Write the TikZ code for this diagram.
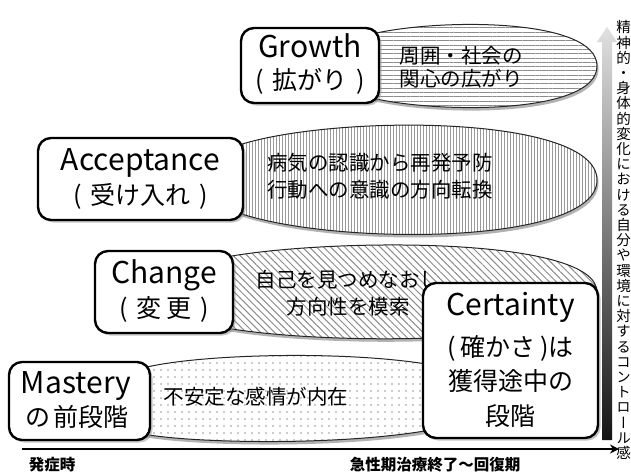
\documentclass[tikz,border=0pt]{standalone}
\usepackage{fontspec}
\setmainfont{Noto Sans CJK JP}
\newfontfamily\vjp[RawFeature=+vert]{Noto Sans CJK JP}
\usetikzlibrary{patterns.meta,shadows,arrows.meta}
\newcommand\fLat{\fontsize{30}{32}\selectfont}
\newcommand\fJbox{\fontsize{25}{27}\selectfont}
\newcommand\fJell{\fontsize{20.5}{22}\selectfont}
\def\pathGrowth{(372,34) .. controls (440,18) and (597,18) .. (597,66) .. controls (597,114) and (440,114) .. (372,98) -- cycle}
\def\pathAccept{(236,146) .. controls (330,114) and (597,114) .. (597,180) .. controls (597,246) and (330,246) .. (236,212) -- cycle}
\def\pathChange{(226,257) .. controls (330,238) and (597,236) .. (597,292) .. controls (597,346) and (330,346) .. (226,328) -- cycle}
\def\pathMastery{(143,368) .. controls (220,348) and (495,348) .. (497,397) .. controls (495,446) and (220,448) .. (143,434) -- cycle}
\begin{document}
\begin{tikzpicture}[x=1pt,y=-1pt,
  stagebox/.style={draw=black, line width=2.4pt, rounded corners=13pt, fill=white,
    drop shadow={shadow xshift=2.5pt, shadow yshift=-2.5pt, fill=black!45}},
  balshadow/.style={fill=black!30, shift={(1.5,3)}},
  baloutline/.style={draw=black!85, line width=1pt},
  txt/.style={inner sep=0pt},
  lat/.style={txt, font=\fLat, anchor=base},
  jbox/.style={txt, font=\fJbox},
  jell/.style={txt, font=\fJell},
  axislbl/.style={txt, font=\fontsize{15.5}{17}\selectfont\bfseries}]
\useasboundingbox (0,0) rectangle (631,475);
\fill[white] (0,0) rectangle (631,475);

% balloons
\fill[balshadow] \pathGrowth;
\fill[white] \pathGrowth;
\path[pattern={Lines[angle=0,distance=4.3pt,line width=0.7pt]}, pattern color=black!45] \pathGrowth;
\draw[baloutline] \pathGrowth;

\fill[balshadow] \pathAccept;
\fill[white] \pathAccept;
\path[pattern={Lines[angle=90,distance=3pt,line width=0.6pt]}, pattern color=black!40] \pathAccept;
\draw[baloutline] \pathAccept;

\fill[balshadow] \pathChange;
\fill[white] \pathChange;
\path[pattern={Lines[angle=-45,distance=5pt,line width=1pt]}, pattern color=black!45] \pathChange;
\draw[baloutline] \pathChange;

\fill[balshadow] \pathMastery;
\fill[white] \pathMastery;
\path[pattern={Dots[distance=7pt,radius=0.8pt]}, pattern color=black!40] \pathMastery;
\draw[baloutline] \pathMastery;

% balloon texts
\node[jell] (tg1) at (461,56) {周囲・社会の};
\node[jell] (tg2) at (461,79) {関心の広がり};
\node[jell] (ta1) at (380,163) {病気の認識から再発予防};
\node[jell] (ta2) at (380,190) {行動への意識の方向転換};
\node[jell] (tc1) at (348,280) {自己を見つめなおし};
\node[jell] (tc2) at (348,307) {方向性を模索};
\node[jell] (tm1) at (256,397) {不安定な感情が内在};

% stage boxes
\node[stagebox, minimum width=138pt, minimum height=75pt] (growth) at (310,65.5) {};
\node[stagebox, minimum width=205pt, minimum height=82pt] (accept) at (140.5,179) {};
\node[stagebox, minimum width=138pt, minimum height=82pt] (change) at (164,292) {};
\node[stagebox, minimum width=141pt, minimum height=78pt] (mastery) at (79.5,401) {};
\node[stagebox, minimum width=175pt, minimum height=155pt] (certainty) at (510.5,360.5) {};

\node[lat] (growthA) at (310,57) {Growth};
\node[jbox] (growthB) at (310,81) {(\kern.35em 拡がり\kern.35em)};
\node[lat] (acceptA) at (140.5,170) {Acceptance};
\node[jbox] (acceptB) at (140.5,196) {(\kern.35em 受け入れ\kern.35em)};
\node[lat] (changeA) at (164,283) {Change};
\node[jbox] (changeB) at (164,309) {(\kern.35em 変\kern.2em 更\kern.35em)};
\node[lat] (certA) at (510.5,315) {Certainty};
\node[jbox] (certB) at (510.5,348) {(\kern.2em 確かさ\kern.2em)は};
\node[jbox] (certC) at (510.5,381) {獲得途中の};
\node[jbox] (certD) at (510.5,416) {段階};
\node[lat] (mastA) at (76,393) {Mastery};
\node[jbox] (mastB) at (77,417) {の\kern.15em 前段階};

% horizontal axis
\coordinate (axstart) at (22,449);
\coordinate (axend) at (619,449);
\draw[line width=2.2pt, -{Stealth[length=9pt,width=9pt]}] (axstart) -- (axend);
\node[axislbl] (onset) at (52,465) {発症時};
\node[axislbl] (recov) at (435,465) {急性期治療終了〜回復期};

% vertical gradient arrow
\shade[top color=black!12, bottom color=black!92]
  (602,440) -- (602,42) -- (597,42) -- (607,27) -- (617,42) -- (612,42) -- (612,440) -- cycle;
\node[txt, font=\vjp\fontsize{14.5}{15.2}\selectfont, align=center] (vlabel) at (623.5,240)
  {精\\神\\的\\・\\身\\体\\的\\変\\化\\に\\お\\け\\る\\自\\分\\や\\環\\境\\に\\対\\す\\る\\コ\\ン\\ト\\ロ\\ー\\ル\\感};
\end{tikzpicture}
\end{document}
